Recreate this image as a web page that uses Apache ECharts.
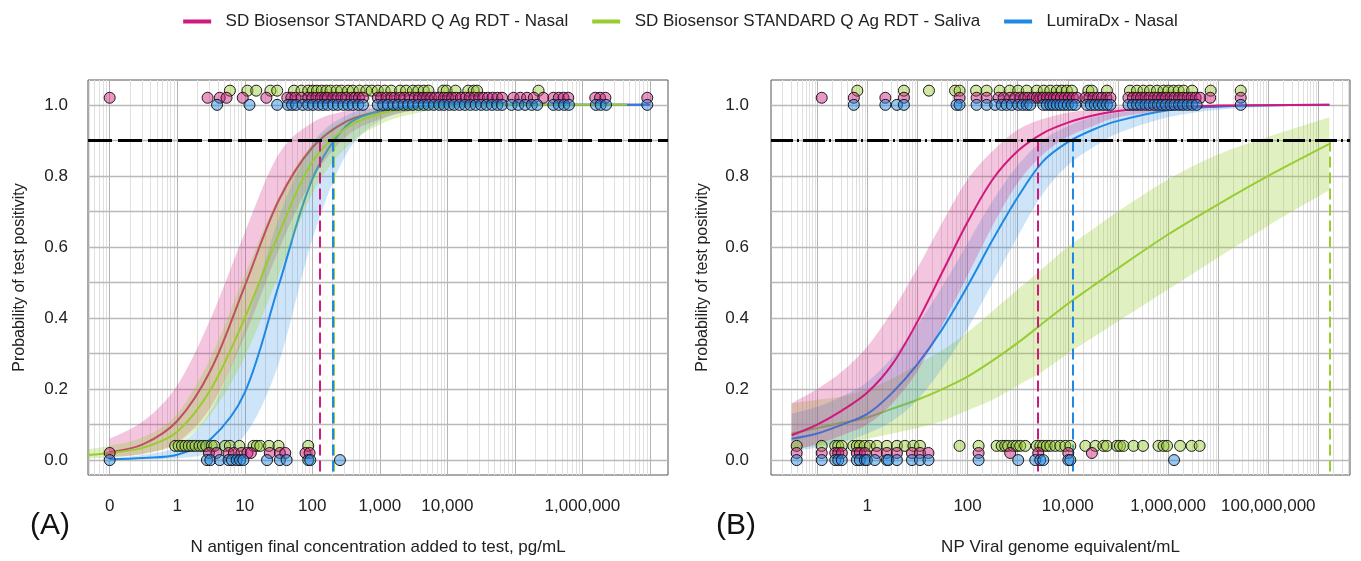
<!DOCTYPE html>
<html>
<head>
<meta charset="utf-8">
<script src="https://cdn.jsdelivr.net/npm/echarts@6/dist/echarts.min.js"></script>
<style>
  html, body { margin: 0; background: #fff; }
  #chart { width: 1361px; height: 561px; }
</style>
</head>
<body>
<div id="chart"></div>
<script>
// devices: 0 = SD nasal, 1 = SD saliva, 2 = LumiraDx nasal
const deviceNames = ['SD Biosensor STANDARD Q Ag RDT - Nasal', 'SD Biosensor STANDARD Q Ag RDT - Saliva', 'LumiraDx - Nasal']
const lineColors = ['#d0197c', '#99cc33', '#1e88e5']
const bandColors = ['rgba(208,25,124,0.25)', 'rgba(153,204,51,0.30)', 'rgba(30,136,229,0.22)']
const pointColors = ['rgba(208,25,124,0.45)', 'rgba(153,204,51,0.45)', 'rgba(30,136,229,0.45)']
const rowShift = [0.02, 0.04, 0] // vertical offset of the 0/1 result rows per device
const threshold = 0.9

// ---------- panel A : x = log10(pg/mL), -1 stands for 0 pg/mL ----------
const aTickX = [-1, 0, 1, 2, 3, 4, 5, 6, 7]
const aLabelX = [-1, 0, 1, 2, 3, 4, 6]

const aNasalX = [-1, -0.5, 0, 0.5, 1, 1.5, 2, 2.5, 3, 3.5, 4, 5, 6, 7]
const aNasalFit = [0.022, 0.045, 0.11, 0.255, 0.49, 0.73, 0.88, 0.953, 0.982, 0.993, 0.997, 1.0, 1.0, 1.0]
const aNasalLo = [0.008, 0.018, 0.05, 0.15, 0.35, 0.59, 0.79, 0.91, 0.96, 0.985, 0.995, 0.999, 1.0, 1.0]
const aNasalHi = [0.06, 0.11, 0.21, 0.40, 0.64, 0.86, 0.95, 0.983, 0.994, 0.998, 1.0, 1.0, 1.0, 1.0]

const aSalivaX = [-1.32, -1, -0.5, 0, 0.5, 1, 1.5, 2, 2.5, 3, 3.5, 4, 5, 6, 6.66]
const aSalivaFit = [0.014, 0.02, 0.035, 0.08, 0.2, 0.40, 0.635, 0.84, 0.935, 0.975, 0.99, 0.996, 1.0, 1.0, 1.0]
const aSalivaLo = [0.005, 0.008, 0.017, 0.045, 0.13, 0.29, 0.52, 0.75, 0.88, 0.945, 0.975, 0.99, 0.998, 1.0, 1.0]
const aSalivaHi = [0.03, 0.04, 0.065, 0.13, 0.29, 0.52, 0.74, 0.89, 0.96, 0.988, 0.996, 0.999, 1.0, 1.0, 1.0]

const aLumiraX = [-1, -0.5, 0, 0.5, 1, 1.5, 2, 2.5, 3, 3.5, 4, 5, 6, 6.96]
const aLumiraFit = [0.002, 0.006, 0.015, 0.06, 0.19, 0.49, 0.79, 0.94, 0.983, 0.995, 0.999, 1.0, 1.0, 1.0]
const aLumiraLo = [0.0, 0.002, 0.005, 0.02, 0.07, 0.27, 0.62, 0.86, 0.955, 0.985, 0.995, 1.0, 1.0, 1.0]
const aLumiraHi = [0.005, 0.015, 0.04, 0.14, 0.37, 0.68, 0.89, 0.97, 0.992, 0.998, 1.0, 1.0, 1.0, 1.0]

const aCross = [2.105, 2.323, 2.298] // x where each fit reaches 0.9

const aTopNasal = [-1, 0.45, 0.63, 0.73, 0.97, 1.32, 1.63, 1.69, 1.75, 1.84, 1.94, 2.0, 2.06, 2.13, 2.19, 2.23, 2.31, 2.37, 2.43, 2.5, 2.58, 2.63, 2.69, 2.75, 2.97, 3.02, 3.1, 3.17, 3.22, 3.3, 3.36, 3.44, 3.52, 3.58, 3.64, 3.7, 3.76, 3.82, 3.88, 3.95, 4.01, 4.07, 4.13, 4.2, 4.27, 4.33, 4.4, 4.47, 4.53, 4.6, 4.67, 4.74, 4.81, 4.98, 5.08, 5.18, 5.28, 5.42, 5.57, 5.65, 5.72, 5.79, 6.19, 6.26, 6.34, 6.96]
const aTopSaliva = [0.78, 1.04, 1.17, 1.38, 1.48, 1.73, 1.84, 1.94, 2.01, 2.07, 2.14, 2.21, 2.27, 2.36, 2.43, 2.53, 2.6, 2.7, 2.8, 2.88, 2.97, 3.07, 3.17, 3.3, 3.39, 3.49, 3.57, 3.65, 3.72, 3.94, 3.99, 4.12, 4.31, 4.39, 4.44, 5.35]
const aTopLumira = [0.59, 1.07, 1.48, 1.64, 1.70, 1.76, 1.86, 1.94, 2.01, 2.09, 2.16, 2.23, 2.31, 2.38, 2.46, 2.53, 2.6, 2.68, 2.75, 2.97, 3.05, 3.12, 3.2, 3.27, 3.35, 3.42, 3.49, 3.57, 3.65, 3.72, 3.8, 3.88, 3.95, 4.03, 4.1, 4.18, 4.26, 4.34, 4.42, 4.5, 4.58, 4.66, 4.74, 4.81, 4.95, 5.05, 5.15, 5.25, 5.33, 5.57, 5.65, 5.73, 5.8, 6.2, 6.27, 6.35, 6.96]
const aBotNasal = [-1.0, 0.47, 0.58, 0.76, 0.84, 0.95, 1.04, 1.09, 1.37, 1.52, 1.6, 1.9, 1.96]
const aBotSaliva = [-0.03, 0.02, 0.07, 0.12, 0.17, 0.22, 0.27, 0.33, 0.38, 0.43, 0.51, 0.55, 0.71, 0.78, 0.92, 1.13, 1.18, 1.23, 1.36, 1.5, 1.94]
const aBotLumira = [-1.0, 0.44, 0.49, 0.63, 0.76, 0.81, 0.88, 0.93, 0.98, 1.33, 1.52, 1.62, 1.94, 1.97, 2.41]

// ---------- panel B : x = log10(viral genome equivalents/mL) ----------
const bTickX = [0, 2, 4, 6, 8]
const bLabelX = [0, 2, 4, 6, 8]

const bFitX = [-1.51, -1, -0.5, 0, 0.5, 1, 1.5, 2, 2.5, 3, 3.5, 4, 4.5, 5, 6, 7, 8, 9.22]
const bNasalFit = [0.07, 0.10, 0.14, 0.19, 0.27, 0.39, 0.53, 0.67, 0.79, 0.87, 0.92, 0.95, 0.97, 0.983, 0.994, 0.998, 0.999, 1.0]
const bNasalLo = [0.025, 0.045, 0.07, 0.10, 0.16, 0.25, 0.38, 0.52, 0.66, 0.78, 0.86, 0.91, 0.94, 0.965, 0.985, 0.994, 0.998, 1.0]
const bNasalHi = [0.16, 0.2, 0.25, 0.32, 0.42, 0.54, 0.67, 0.79, 0.87, 0.93, 0.96, 0.978, 0.987, 0.993, 0.998, 1.0, 1.0, 1.0]
const bSalivaFit = [0.075, 0.09, 0.105, 0.12, 0.145, 0.17, 0.2, 0.235, 0.28, 0.33, 0.385, 0.44, 0.49, 0.54, 0.635, 0.72, 0.80, 0.89]
const bSalivaLo = [0.03, 0.04, 0.05, 0.06, 0.075, 0.09, 0.11, 0.14, 0.17, 0.21, 0.25, 0.3, 0.345, 0.39, 0.48, 0.57, 0.66, 0.76]
const bSalivaHi = [0.16, 0.17, 0.18, 0.2, 0.23, 0.27, 0.31, 0.36, 0.42, 0.48, 0.54, 0.6, 0.65, 0.7, 0.79, 0.86, 0.91, 0.965]
const bLumiraFit = [0.06, 0.075, 0.1, 0.13, 0.19, 0.27, 0.37, 0.49, 0.62, 0.74, 0.84, 0.895, 0.93, 0.955, 0.985, 0.995, 0.999, 1.0]
const bLumiraLo = [0.025, 0.035, 0.05, 0.075, 0.11, 0.17, 0.26, 0.37, 0.5, 0.63, 0.75, 0.83, 0.88, 0.92, 0.965, 0.986, 0.995, 0.999]
const bLumiraHi = [0.13, 0.15, 0.18, 0.22, 0.29, 0.38, 0.49, 0.61, 0.73, 0.83, 0.9, 0.94, 0.965, 0.978, 0.993, 0.998, 1.0, 1.0]

const bCross = [3.40, 9.22, 4.10]

const bTopNasal = [-0.91, -0.27, 0.36, 0.73, 1.84, 2.18, 2.38, 2.62, 2.72, 2.85, 2.95, 3.05, 3.13, 3.21, 3.3, 3.38, 3.45, 3.51, 3.58, 3.65, 3.72, 3.78, 3.86, 3.94, 4.02, 4.1, 4.18, 4.35, 4.43, 4.51, 4.6, 4.68, 4.77, 4.85, 5.21, 5.3, 5.38, 5.46, 5.55, 5.63, 5.72, 5.8, 5.88, 5.96, 6.05, 6.13, 6.22, 6.3, 6.39, 6.47, 6.55, 6.64, 6.84, 7.45]
const bTopSaliva = [-0.2, 0.73, 1.23, 1.75, 1.84, 2.17, 2.38, 2.64, 2.84, 3.01, 3.18, 3.38, 3.52, 3.65, 3.78, 3.88, 3.98, 4.08, 4.41, 4.48, 4.78, 5.24, 5.38, 5.51, 5.64, 5.78, 5.91, 6.01, 6.11, 6.21, 6.31, 6.48, 6.85, 7.45]
const bTopLumira = [-0.27, 0.36, 0.59, 0.73, 1.78, 1.84, 2.18, 2.38, 2.55, 2.68, 2.78, 2.88, 3.01, 3.1, 3.18, 3.25, 3.51, 3.58, 3.65, 3.71, 3.78, 3.85, 3.92, 4.0, 4.08, 4.15, 4.38, 4.46, 4.54, 4.62, 4.7, 4.78, 4.85, 5.21, 5.3, 5.38, 5.46, 5.55, 5.63, 5.72, 5.8, 5.88, 5.96, 6.05, 6.13, 6.22, 6.3, 6.39, 6.48, 6.57, 7.45]
const bBotNasal = [-1.41, -0.91, -0.64, -0.58, -0.51, -0.21, -0.15, -0.05, 0.19, 0.39, 0.59, 0.89, 1.05, 1.22, 2.22, 2.85, 3.41, 4.01, 4.48]
const bBotSaliva = [-1.41, -0.91, -0.64, -0.58, -0.51, -0.28, -0.21, -0.15, -0.05, 0.05, 0.19, 0.39, 0.59, 0.75, 0.92, 1.05, 1.84, 2.22, 2.58, 2.68, 2.75, 2.81, 2.91, 2.98, 3.05, 3.15, 3.38, 3.45, 3.51, 3.58, 3.65, 3.75, 3.85, 3.95, 4.05, 4.35, 4.55, 4.71, 4.78, 4.98, 5.04, 5.11, 5.31, 5.5, 5.81, 5.91, 5.98, 6.24, 6.47, 6.63]
const bBotLumira = [-1.41, -0.91, -0.64, -0.58, -0.51, -0.21, -0.15, -0.05, -0.01, 0.15, 0.39, 0.42, 0.59, 0.89, 1.05, 1.22, 2.22, 3.01, 3.35, 3.45, 3.51, 4.01, 4.05, 6.12]

// ---------- layout ----------
const font = 'Liberation Sans, Arial, sans-serif'
const yMin = -0.042
const yMax = 1.07
const xRange = [[-1.321, 7.267], [-1.922, 9.63]]

function powLabel(v) {
  return Math.round(Math.pow(10, v)).toLocaleString('en-US')
}

// smooth path segments through a list of pixel points
function curveTo(pts) {
  let s = ''
  for (let i = 0; i < pts.length - 1; i++) {
    const p0 = pts[i - 1] || pts[i]
    const p1 = pts[i]
    const p2 = pts[i + 1]
    const p3 = pts[i + 2] || pts[i + 1]
    const c1x = p1[0] + (p2[0] - p0[0]) / 6
    const c1y = p1[1] + (p2[1] - p0[1]) / 6
    const c2x = p2[0] - (p3[0] - p1[0]) / 6
    const c2y = p2[1] - (p3[1] - p1[1]) / 6
    s += ' C' + c1x + ',' + c1y + ' ' + c2x + ',' + c2y + ' ' + p2[0] + ',' + p2[1]
  }
  return s
}

function bandSeries(gi, xs, lo, hi, color, z) {
  const rows = xs.map((x, i) => [x, lo[i], hi[i]])
  return {
    type: 'custom',
    xAxisIndex: gi,
    yAxisIndex: gi,
    z: z,
    silent: true,
    encode: { x: 0, y: [1, 2] },
    data: rows,
    renderItem: function (params, api) {
      if (params.dataIndex !== 0) return
      const up = rows.map(r => api.coord([r[0], r[2]]))
      const dn = rows.map(r => api.coord([r[0], r[1]])).reverse()
      const d = 'M' + up[0][0] + ',' + up[0][1] + curveTo(up) +
        ' L' + dn[0][0] + ',' + dn[0][1] + curveTo(dn) + ' Z'
      return { type: 'path', shape: { pathData: d }, style: { fill: color, stroke: null } }
    }
  }
}

function fitSeries(gi, name, xs, fit, color, z) {
  return {
    name: name,
    type: 'line',
    xAxisIndex: gi,
    yAxisIndex: gi,
    z: z,
    silent: true,
    smooth: 0.33,
    showSymbol: false,
    itemStyle: { color: color },
    lineStyle: { color: color, width: 2 },
    data: xs.map((x, i) => [x, fit[i]])
  }
}

function pointSeries(gi, xs, y, color, z) {
  return {
    type: 'scatter',
    xAxisIndex: gi,
    yAxisIndex: gi,
    z: z,
    silent: true,
    symbolSize: 11,
    itemStyle: { color: color, borderColor: '#1a1a1a', borderWidth: 1, opacity: 1 },
    data: xs.map(x => [x, y])
  }
}

function gridSeries(gi) {
  const [x0, x1] = xRange[gi]
  const data = []
  for (let d = Math.floor(x0); d <= Math.ceil(x1); d++) {
    for (let m = 1; m <= 9; m++) {
      const v = d + Math.log10(m)
      if (v <= x0 || v >= x1) continue
      data.push({
        coords: [[v, yMin], [v, yMax]],
        lineStyle: { color: m === 1 ? '#b4b4b4' : '#e0e0e0', width: 1, opacity: 1 }
      })
    }
  }
  for (let k = 0; k <= 10; k++) {
    data.push({ coords: [[x0, k / 10], [x1, k / 10]], lineStyle: { color: '#b9b9b9', width: 1.3, opacity: 1 } })
  }
  return {
    type: 'lines', coordinateSystem: 'cartesian2d', xAxisIndex: gi, yAxisIndex: gi,
    z: 1, silent: true, data: data
  }
}

function cutoffSeries(gi, cross, dashType) {
  const [x0, x1] = xRange[gi]
  const data = cross.map((x, i) => ({
    coords: [[x, threshold], [x, yMin]],
    lineStyle: { color: lineColors[i], width: 2, type: [11, 5], opacity: 1 }
  }))
  data.push({ coords: [[x0, threshold], [x1, threshold]], lineStyle: { color: '#000', width: 3, type: dashType, opacity: 1 } })
  return {
    type: 'lines', coordinateSystem: 'cartesian2d', xAxisIndex: gi, yAxisIndex: gi,
    z: 20, silent: true, data: data
  }
}

function xAxis(gi, ticks, labels, fmt, name) {
  return {
    gridIndex: gi,
    type: 'value',
    min: xRange[gi][0],
    max: xRange[gi][1],
    axisLine: { show: false },
    axisTick: { show: true, customValues: ticks, length: 10, lineStyle: { color: '#444', width: 1 } },
    axisLabel: { customValues: labels, formatter: fmt, fontSize: 17, color: '#222', fontFamily: font, margin: 23 },
    splitLine: { show: false },
    name: name,
    nameLocation: 'middle',
    nameGap: 64,
    nameTextStyle: { fontSize: 17, color: '#222', fontFamily: font }
  }
}

function yAxis(gi, margin) {
  const ticks = [0, 0.2, 0.4, 0.6, 0.8, 1.0]
  return {
    gridIndex: gi,
    type: 'value',
    min: yMin,
    max: yMax,
    axisLine: { show: false },
    axisTick: { show: true, customValues: ticks, length: 10, lineStyle: { color: '#444', width: 1 } },
    axisLabel: { customValues: ticks, formatter: v => v.toFixed(1), fontSize: 17, color: '#222', fontFamily: font, margin: margin },
    splitLine: { show: false },
    name: 'Probability of test positivity',
    nameLocation: 'middle',
    nameGap: 60,
    nameTextStyle: { fontSize: 16, color: '#222', fontFamily: font }
  }
}

const series = [
  gridSeries(0),
  bandSeries(0, aNasalX, aNasalLo, aNasalHi, bandColors[0], 2),
  fitSeries(0, deviceNames[0], aNasalX, aNasalFit, lineColors[0], 3),
  bandSeries(0, aLumiraX, aLumiraLo, aLumiraHi, bandColors[2], 4),
  fitSeries(0, deviceNames[2], aLumiraX, aLumiraFit, lineColors[2], 5),
  bandSeries(0, aSalivaX, aSalivaLo, aSalivaHi, bandColors[1], 6),
  fitSeries(0, deviceNames[1], aSalivaX, aSalivaFit, lineColors[1], 7),
  cutoffSeries(0, aCross, [24, 6]),
  pointSeries(0, aTopSaliva, 1 + rowShift[1], pointColors[1], 30),
  pointSeries(0, aTopNasal, 1 + rowShift[0], pointColors[0], 31),
  pointSeries(0, aTopLumira, 1 + rowShift[2], pointColors[2], 32),
  pointSeries(0, aBotSaliva, 0 + rowShift[1], pointColors[1], 30),
  pointSeries(0, aBotNasal, 0 + rowShift[0], pointColors[0], 31),
  pointSeries(0, aBotLumira, 0 + rowShift[2], pointColors[2], 32),

  gridSeries(1),
  bandSeries(1, bFitX, bSalivaLo, bSalivaHi, bandColors[1], 2),
  fitSeries(1, deviceNames[1], bFitX, bSalivaFit, lineColors[1], 3),
  bandSeries(1, bFitX, bLumiraLo, bLumiraHi, bandColors[2], 4),
  fitSeries(1, deviceNames[2], bFitX, bLumiraFit, lineColors[2], 5),
  bandSeries(1, bFitX, bNasalLo, bNasalHi, bandColors[0], 6),
  fitSeries(1, deviceNames[0], bFitX, bNasalFit, lineColors[0], 7),
  cutoffSeries(1, bCross, [22, 4, 2, 4]),
  pointSeries(1, bTopSaliva, 1 + rowShift[1], pointColors[1], 30),
  pointSeries(1, bTopNasal, 1 + rowShift[0], pointColors[0], 31),
  pointSeries(1, bTopLumira, 1 + rowShift[2], pointColors[2], 32),
  pointSeries(1, bBotSaliva, 0 + rowShift[1], pointColors[1], 30),
  pointSeries(1, bBotNasal, 0 + rowShift[0], pointColors[0], 31),
  pointSeries(1, bBotLumira, 0 + rowShift[2], pointColors[2], 32)
]

const option = {
  animation: false,
  backgroundColor: '#fff',
  legend: {
    top: 8,
    left: 'center',
    icon: 'rect',
    itemWidth: 28,
    itemHeight: 4,
    itemGap: 24,
    selectedMode: false,
    formatter: n => '  ' + n,
    textStyle: { fontSize: 17, color: '#222', fontFamily: font },
    data: deviceNames
  },
  grid: [
    { left: 88, top: 80, width: 580, height: 398, show: true, borderColor: '#555', borderWidth: 1, backgroundColor: 'transparent' },
    { left: 771, top: 80, width: 579, height: 398, show: true, borderColor: '#555', borderWidth: 1, backgroundColor: 'transparent' }
  ],
  xAxis: [
    xAxis(0, aTickX, aLabelX, v => (v === -1 ? '0' : powLabel(v)), 'N antigen final concentration added to test, pg/mL'),
    xAxis(1, bTickX, bLabelX, v => powLabel(v), 'NP Viral genome equivalent/mL')
  ],
  yAxis: [yAxis(0, 20), yAxis(1, 22)],
  graphic: [
    { type: 'text', left: 30, top: 511, style: { text: '(A)', fontSize: 30, fontFamily: font, fill: '#111' } },
    { type: 'text', left: 716, top: 511, style: { text: '(B)', fontSize: 30, fontFamily: font, fill: '#111' } }
  ],
  series: series
}

const chart = echarts.init(document.getElementById('chart'))
chart.setOption(option)
window.addEventListener('resize', () => chart.resize())
</script>
</body>
</html>
